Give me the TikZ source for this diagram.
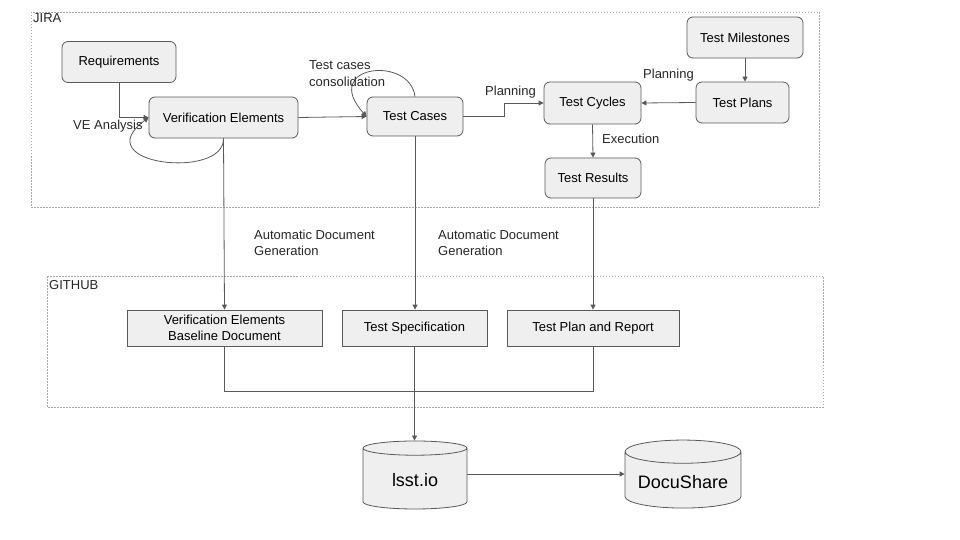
\documentclass[tikz,border=0pt]{standalone}
\usepackage{fontspec}
\setmainfont{Liberation Sans}
\usetikzlibrary{shapes.geometric,arrows.meta}
\definecolor{boxfill}{HTML}{EFEFEF}
\definecolor{edge}{HTML}{595959}
\definecolor{zone}{HTML}{A6A6A6}
\begin{document}
\begin{tikzpicture}[x=1pt, y=-1pt,
    font=\fontsize{13}{16}\selectfont,
    item/.style={draw=edge, fill=boxfill, rounded corners=6pt, line width=0.8pt, align=center},
    doc/.style={draw=edge, fill=boxfill, line width=0.8pt, align=center},
    store/.style={draw=edge, fill=boxfill, line width=0.8pt, cylinder, shape border rotate=90, font=\fontsize{18}{21}\selectfont},
    zonebox/.style={draw=zone, line width=0.6pt, dash pattern=on 1.5pt off 1.5pt},
    flow/.style={draw=edge, line width=0.8pt, -{Triangle[length=5pt, width=5pt]}},
    link/.style={draw=edge, line width=0.8pt},
    note/.style={text=black!85, align=left, anchor=north west, inner sep=0pt}]
        \useasboundingbox (0, 0) rectangle (960, 540);
        % regions
        \draw[zonebox] (31, 12) rectangle (819, 207);
        \node[note, name=jira] at (33, 13) {JIRA};
        \draw[zonebox] (47, 276) rectangle (823, 407);
        \node[note, name=github] at (49, 280) {GITHUB};
        % jira items
        \node[item, minimum width=114pt, minimum height=41pt, name=req] at (119, 62) {Requirements};
        \node[item, minimum width=149pt, minimum height=41pt, name=ve] at (223.5, 117.5) {Verification Elements};
        \node[item, minimum width=96pt, minimum height=39pt, name=tcase] at (415, 116.5) {Test Cases};
        \node[item, minimum width=97pt, minimum height=42pt, name=tcycle] at (592.5, 103) {Test Cycles};
        \node[item, minimum width=93pt, minimum height=41pt, name=tplan] at (742.5, 102.5) {Test Plans};
        \node[item, minimum width=116pt, minimum height=41pt, name=tmile] at (745, 37.5) {Test Milestones};
        \node[item, minimum width=96pt, minimum height=40pt, name=tres] at (593, 178) {Test Results};
        % github documents
        \node[doc, minimum width=195pt, minimum height=36pt, name=vedoc] at (224.5, 328) {Verification Elements\\[0pt]Baseline Document};
        \node[doc, minimum width=145pt, minimum height=36pt, name=tspec] at (414.5, 328) {Test Specification};
        \node[doc, minimum width=172pt, minimum height=36pt, name=tpr] at (593, 328) {Test Plan and Report};
        % stores
        \node[store, aspect=0.27, minimum width=104pt, minimum height=68pt, name=lsst] at (415, 480) {lsst.io};
        \node[store, aspect=0.24, minimum width=116pt, minimum height=68pt, name=docu] at (683, 482) {DocuShare};
        % connectors
        \draw[flow] (req.south) |- (ve.west);
        \draw[flow] (ve.east) -- (tcase.west);
        \draw[flow] (ve.south) .. controls (225, 180) and (85, 165) .. (ve.west);
        \node[note, name=veana] at (73, 120) {VE Analysis};
        \draw[flow] (tcase.north) .. controls (410, 55) and (320, 65) .. (tcase.west);
        \node[note, name=tccons] at (309, 60) {Test cases\\[1pt]consolidation};
        \draw[flow] (tcase.east) -- (504, 116.5) |- (tcycle.west);
        \node[note, name=plan1] at (485, 86) {Planning};
        \draw[flow] (tplan.west) -- (tcycle.east);
        \node[note, name=plan2] at (643, 69) {Planning};
        \draw[flow] (tmile.south) -- (tplan.north -| tmile.south);
        \draw[flow] (tcycle.south) -- (tres.north);
        \node[note, name=exec] at (602, 134) {Execution};
        \draw[flow] (ve.south) -- (vedoc.north);
        \node[note, name=gen1] at (254, 230) {Automatic Document\\Generation};
        \draw[flow] (tcase.south) -- (tspec.north -| tcase.south);
        \node[note, name=gen2] at (438, 230) {Automatic Document\\Generation};
        \draw[flow] (tres.south) -- (tpr.north);
        \draw[link] (vedoc.south) |- (593, 391) -- (tpr.south);
        \draw[flow] (tspec.south) -- (lsst.north -| tspec.south);
        \draw[flow] ([yshift=6pt]lsst.east) -- ([yshift=6pt]lsst.east -| docu.west);
\end{tikzpicture}
\end{document}
